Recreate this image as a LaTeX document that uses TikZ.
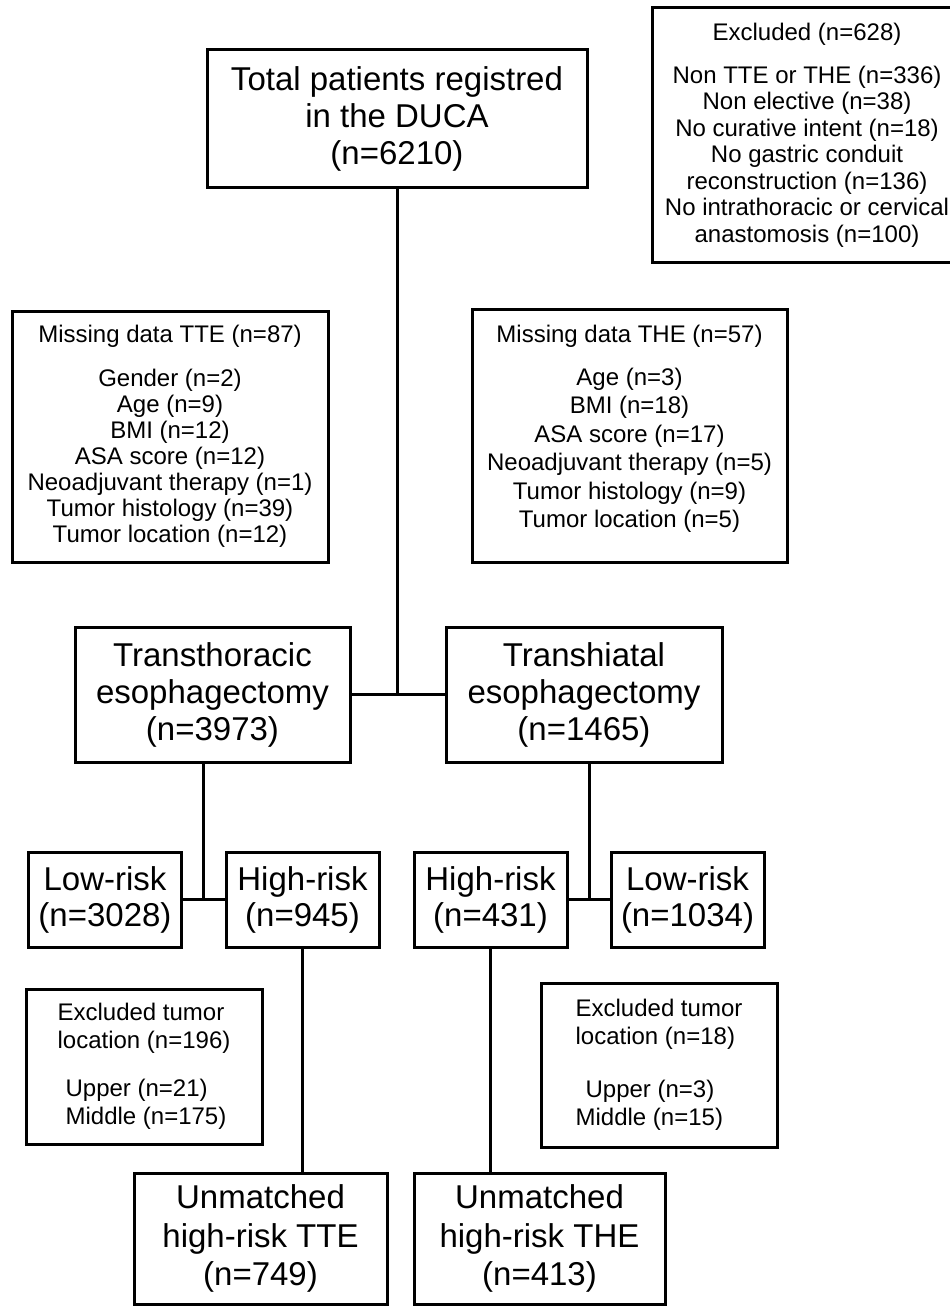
\documentclass[tikz,border=0pt]{standalone}
\usepackage{fontspec}
\setmainfont{Liberation Sans}
\usepackage{tikz}
\usetikzlibrary{calc,positioning}

\begin{document}
\begin{tikzpicture}[x=1pt, y=-1pt, line width=3pt,
  box/.style={draw, line width=3pt, inner sep=0pt, align=center},
  big/.style={box, font=\fontsize{33}{37}\selectfont},
  small/.style={box, font=\fontsize{24}{26}\selectfont}]
\useasboundingbox (0,0) rectangle (950,1306);
% top of the chart
\node[big, minimum width=380, minimum height=137] (total) at (397,118.5) {Total patients registred\\in the DUCA\\(n=6210)};
\node[small, font=\fontsize{24}{26.5}\selectfont, minimum width=310, minimum height=255] (excl) at (807,135) {Excluded (n=628)\\[16.5pt]Non TTE or THE (n=336)\\Non elective (n=38)\\No curative intent (n=18)\\No gastric conduit\\reconstruction (n=136)\\No intrathoracic or cervical\\anastomosis (n=100)};
% missing data
\node[small, minimum width=316, minimum height=251] (missT) at (170,436.5) {Missing data TTE (n=87)\\[18pt]Gender (n=2)\\Age (n=9)\\BMI (n=12)\\ASA score (n=12)\\Neoadjuvant therapy (n=1)\\Tumor histology (n=39)\\Tumor location (n=12)};
\node[small, font=\fontsize{24}{28.5}\selectfont, minimum width=315, minimum height=253] (missH) at (629.5,435.5) {Missing data THE (n=57)\\[14.5pt]Age (n=3)\\BMI (n=18)\\ASA score (n=17)\\Neoadjuvant therapy (n=5)\\Tumor histology (n=9)\\Tumor location (n=5)\\[-10pt]};
% surgery type
\node[big, minimum width=275, minimum height=135] (tte) at (212.5,694.5) {Transthoracic\\esophagectomy\\(n=3973)};
\node[big, minimum width=276, minimum height=135] (the) at (584,694.5) {Transhiatal\\esophagectomy\\(n=1465)};
% risk groups
\begin{scope}[every node/.style={big, font=\fontsize{33}{36}\selectfont, minimum width=153, minimum height=95}]
\node (lowT) at (105,899.5) {Low-risk\\(n=3028)};
\node (highT) at (302.5,899.5) {High-risk\\(n=945)};
\node (highH) at (490.5,899.5) {High-risk\\(n=431)};
\node (lowH) at (687.5,899.5) {Low-risk\\(n=1034)};
\end{scope}
% excluded tumor location
\node[small, font=\fontsize{24}{28}\selectfont, align=left, minimum width=236, minimum height=155] (exT) at (144,1066.5) {Excluded tumor\\location (n=196)\\[20pt]\hspace*{8pt}Upper (n=21)\\\hspace*{8pt}Middle (n=175)};
\node[small, font=\fontsize{24}{28}\selectfont, align=left, minimum width=236, minimum height=164] (exH) at (659,1065) {Excluded tumor\\location (n=18)\\[25pt]\hspace*{10pt}Upper (n=3)\\Middle (n=15)};
% final groups
\node[big, font=\fontsize{33}{38.5}\selectfont, minimum width=253, minimum height=131] (unT) at (260.5,1238.5) {Unmatched\\high-risk TTE\\(n=749)};
\node[big, font=\fontsize{33}{38.5}\selectfont, minimum width=251, minimum height=131] (unH) at (539.5,1238.5) {Unmatched\\high-risk THE\\(n=413)};
% connectors
\draw (total.south) -- (total.south |- tte.east);
\draw (tte.east) -- (the.west);
\coordinate (jT) at ($(lowT.east)!0.5!(highT.west)$);
\coordinate (jH) at ($(highH.east)!0.5!(lowH.west)$);
\draw (jT |- tte.south) -- (jT);
\draw (jH |- the.south) -- (jH);
\draw (lowT.east) -- (highT.west);
\draw (highH.east) -- (lowH.west);
\draw (highT.south) -- (highT.south |- unT.north);
\draw (highH.south) -- (highH.south |- unH.north);
\end{tikzpicture}
\end{document}
